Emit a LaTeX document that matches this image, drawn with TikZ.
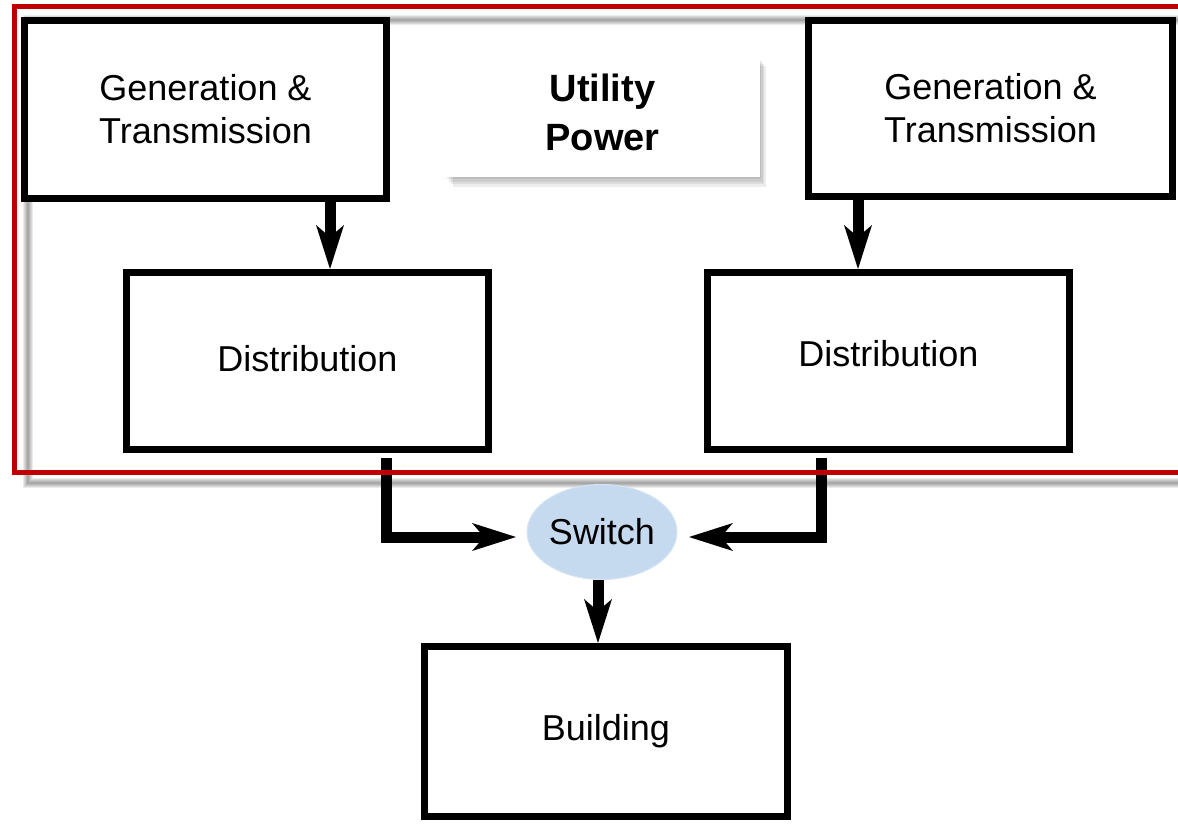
\documentclass[tikz,border=0pt]{standalone}
\usepackage{fontspec}
\setmainfont{Liberation Sans}
\usetikzlibrary{arrows.meta,shapes.geometric}
\definecolor{framered}{RGB}{192,0,0}
\definecolor{switchblue}{RGB}{197,217,239}
\begin{document}
\begin{tikzpicture}[x=1pt,y=-1pt,
  box/.style={draw=black, line width=7pt, fill=white, align=center, inner sep=0pt,
              font=\fontsize{36}{43}\selectfont},
  flow/.style={line width=11pt, line join=miter,
               -{Stealth[length=44pt,width=28pt,inset=12pt,line width=0pt]}},
  softshadow/.style={black, opacity=0.08, line width=#1},
]
\useasboundingbox (0,0) rectangle (1178,823);
\fill[white] (0,0) rectangle (1178,823);

% soft shadow of the group panel
\foreach \w in {2,4,6,8,10}{
  \draw[softshadow=\w pt] (28,20) rectangle (1210,483);
}

% Utility Power label panel with soft shadow
\foreach \d in {2,4,6,8}{
  \fill[black, opacity=0.07] (445+\d,58+\d) rectangle (760+\d*0.7,177+\d*1.2);
}
\node[fill=white, minimum width=315pt, minimum height=119pt, inner sep=0pt] (up) at (602.5,117.5) {};
\node[align=center, font=\fontsize{38}{49}\selectfont\bfseries] (uptext)
  at ([yshift=5pt]up.center) {Utility\\Power};

% boxes
\node[box, minimum width=362pt, minimum height=178pt] (gt1) at (205.5,109.5) {Generation \&\\Transmission};
\node[box, minimum width=364pt, minimum height=176pt] (gt2) at (990.5,108.5) {Generation \&\\Transmission};
\node[box, minimum width=362pt, minimum height=177pt] (d1) at (307.5,361) {\raisebox{6pt}{Distribution}};
\node[box, minimum width=362pt, minimum height=177pt] (d2) at (888.5,361) {\raisebox{15pt}{Distribution}};
\node[box, minimum width=363pt, minimum height=170pt] (bld) at (606,731.5) {Building};
\node[ellipse, fill=switchblue, draw=switchblue!70!white, line width=1pt,
      minimum width=143pt, minimum height=95pt, inner sep=0pt,
      font=\fontsize{36}{43}\selectfont] (sw) at (602,532) {Switch};

% connectors
\draw[flow] ([xshift=124.5pt]gt1.south) -- ([xshift=124.5pt]gt1.south |- d1.north);
\draw[flow] ([xshift=-132.5pt]gt2.south) -- ([xshift=-132.5pt]gt2.south |- d2.north);
\draw[flow, shorten >=10.5pt] ([xshift=78.5pt,yshift=-5pt]d1.south) |- ([yshift=-5pt]sw.west);
\draw[flow, shorten >=11.5pt] ([xshift=-67.5pt,yshift=-5pt]d2.south) |- ([yshift=-5pt]sw.east);
\draw[flow] ([xshift=-4pt]sw.south) -- ([xshift=-4pt]sw.south |- bld.north);

% red frame of the utility group
\draw[framered, line width=5pt] (1210,472) -| (14.7,6.5) -- (1210,6.5);
\end{tikzpicture}
\end{document}
